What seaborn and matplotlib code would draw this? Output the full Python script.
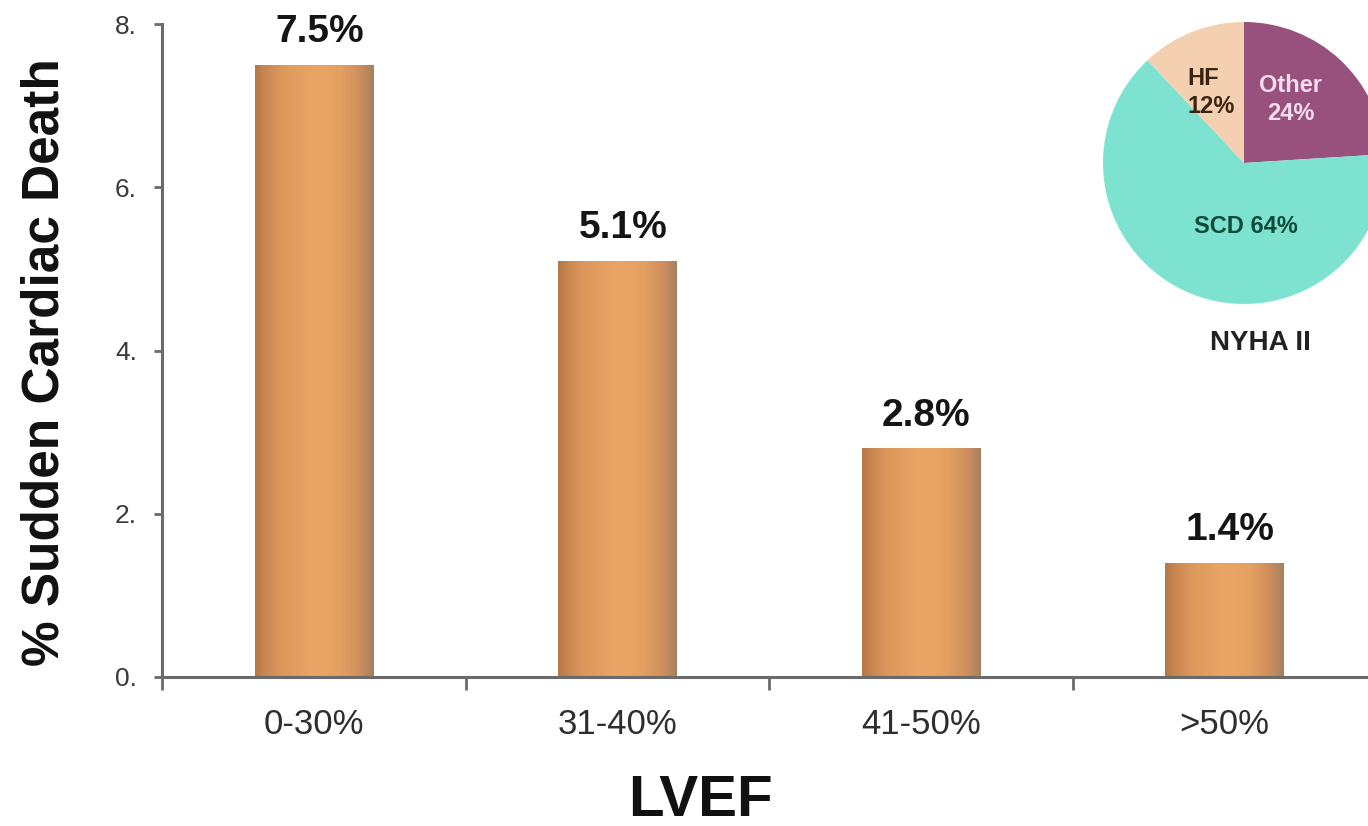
import numpy as np
import matplotlib
matplotlib.use("Agg")
import matplotlib.pyplot as plt
from matplotlib.colors import LinearSegmentedColormap
from matplotlib.ticker import FuncFormatter, FixedLocator
import seaborn as sns

# Sudden cardiac death rate by LVEF band
lvef_bands = ["0-30%", "31-40%", "41-50%", ">50%"]
scd_rate = [7.5, 5.1, 2.8, 1.4]

# Mode of death, NYHA class II
death_modes = ["Other", "SCD", "HF"]
death_share = [24, 64, 12]
mode_colors = ["#97517C", "#7DE3D0", "#F4D0B0"]
mode_text_colors = ["#F6DDF0", "#0D4A3A", "#3A2412"]

sns.set_theme(style="white")
plt.rcParams["font.family"] = ["Liberation Sans", "DejaVu Sans"]

fig = plt.figure(figsize=(13.68, 8.26), dpi=100)
W, H = 1368, 826
ax = fig.add_axes([162 / W, (H - 677) / H, 1214 / W, 653 / H])

sns.barplot(x=lvef_bands, y=scd_rate, width=0.39, color="#E8A365",
            saturation=1, ax=ax, zorder=2)

# cylinder-like horizontal shading on each bar
shade = LinearSegmentedColormap.from_list(
    "bar_shade",
    [(0.0, "#B47748"), (0.08, "#C9864F"), (0.22, "#DC975C"),
     (0.50, "#EAA566"), (0.72, "#E4A062"), (0.88, "#CF8E5C"),
     (1.0, "#A4805F")])
grad = np.linspace(0, 1, 256)[None, :]
for bar in ax.patches:
    x0, w, h = bar.get_x(), bar.get_width(), bar.get_height()
    im = ax.imshow(grad, cmap=shade, aspect="auto",
                   extent=[x0, x0 + w, 0, h], zorder=3, interpolation="bicubic")
    im.set_clip_path(bar)
    ax.annotate(f"{h:.1f}%", xy=(x0 + w / 2, h), xytext=(4, 16.5),
                textcoords="offset points", ha="center", va="baseline",
                fontsize=28, fontweight="bold", color="#151515", zorder=5)

ax.set_xlim(-0.5, 3.5)
ax.set_ylim(0, 8)

for side in ("top", "right"):
    ax.spines[side].set_visible(False)
for side in ("left", "bottom"):
    ax.spines[side].set_color("#6A6A6A")
    ax.spines[side].set_linewidth(2.2)
    ax.spines[side].set_zorder(6)

ax.set_yticks([0, 2, 4, 6, 8])
ax.yaxis.set_major_formatter(FuncFormatter(lambda v, p: f"{v:.0f}."))
ax.tick_params(axis="y", which="major", left=True, direction="out", length=6,
               width=2, color="#6A6A6A", pad=12, labelsize=19,
               labelcolor="#3A3A3A")

ax.xaxis.set_minor_locator(FixedLocator([-0.5, 0.5, 1.5, 2.5, 3.5]))
ax.tick_params(axis="x", which="major", bottom=False, length=0, pad=22,
               labelsize=25, labelcolor="#2E2E2E")
ax.tick_params(axis="x", which="minor", bottom=True, direction="out",
               length=9, width=2, color="#6A6A6A")

ax.set_ylabel("% Sudden Cardiac Death", fontsize=37, fontweight="bold",
              color="#111111")
ax.yaxis.set_label_coords(-(162 - 45) / 1214, (677 - 362) / 653)
ax.set_xlabel("LVEF", fontsize=42, fontweight="bold", color="#111111")
ax.xaxis.set_label_coords((700 - 162) / 1214, -(801 - 677) / 653)
ax.xaxis.label.set_va("center")
ax.yaxis.label.set_va("center")

# inset pie: mode of death
R = 141
cx, cy = 1244, 163
pax = fig.add_axes([(cx - R) / W, (H - cy - R) / H, 2 * R / W, 2 * R / H])
pax.pie(death_share, colors=mode_colors, startangle=90, counterclock=False,
        radius=1, wedgeprops=dict(linewidth=0))
pax.set_xlim(-1, 1)
pax.set_ylim(-1, 1)
pax.set_aspect("equal")
pax.axis("off")
for wedge in pax.patches:
    wedge.set_clip_on(False)

label_spec = {"Other": ((0.33, 0.45), "center", "center"),
              "SCD": ((0.01, -0.45), "center", "center"),
              "HF": ((-0.40, 0.50), "left", "left")}
for name, share, tc in zip(death_modes, death_share, mode_text_colors):
    sep = " " if name == "SCD" else "\n"
    (x, y), ha, ma = label_spec[name]
    pax.text(x, y, f"{name}{sep}{share}%", ha=ha, va="center",
             multialignment=ma, fontsize=17, fontweight="bold", color=tc,
             linespacing=1.3, clip_on=False)
pax.text(0.12, -1.28, "NYHA II", ha="center", va="center", fontsize=20,
         fontweight="bold", color="#222222", clip_on=False)

fig.savefig("out.png", dpi=100)
